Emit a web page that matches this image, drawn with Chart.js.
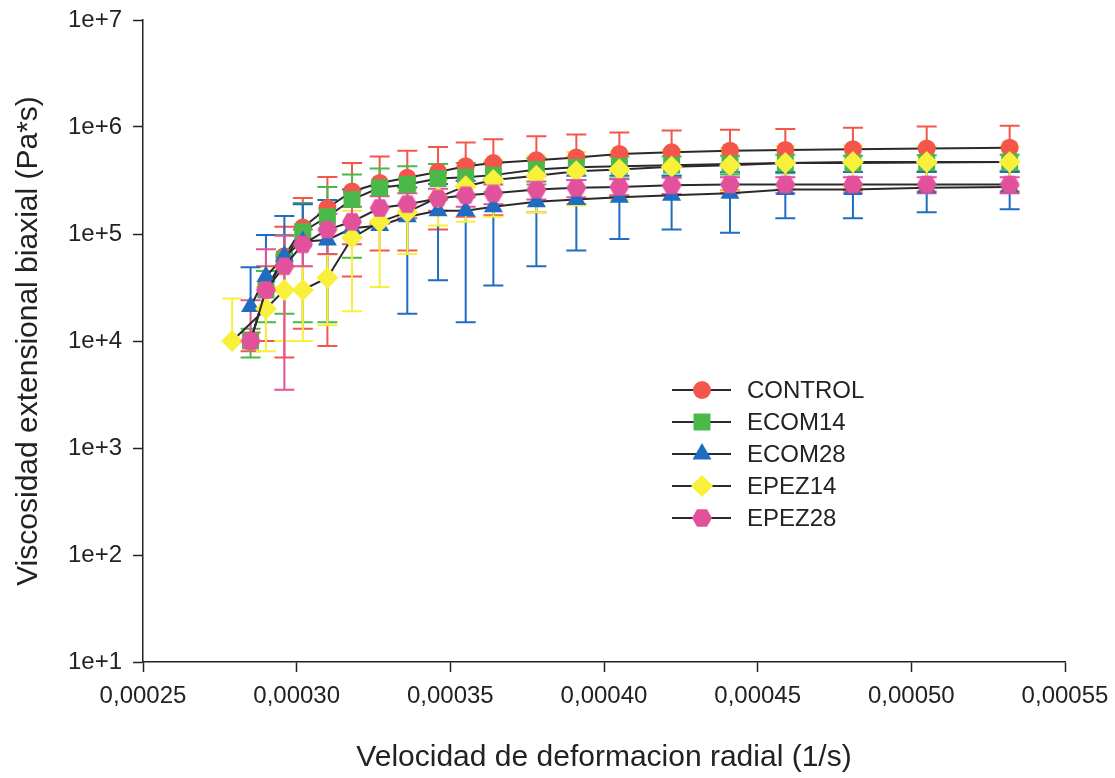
<!DOCTYPE html>
<html>
<head>
<meta charset="utf-8">
<script src="https://cdn.jsdelivr.net/npm/chart.js@4.4.0/dist/chart.umd.min.js"></script>
<style>
  html, body { margin: 0; padding: 0; background: #fff; }
</style>
</head>
<body>
<canvas id="chart" width="1115" height="778"></canvas>
<script>
// strain rate (1/s) for each measurement step
const rates = [0.000279, 0.000285, 0.000290, 0.000296, 0.000302, 0.000310, 0.000318,
  0.000327, 0.000336, 0.000346, 0.000355, 0.000364, 0.000378, 0.000391, 0.000405,
  0.000422, 0.000441, 0.000459, 0.000481, 0.000505, 0.000532];

// biaxial extensional viscosity (Pa*s) and its standard deviation
const control = [null, 1.0e4, 3.0e4, 6.2e4, 1.15e5, 1.75e5, 2.5e5, 3.0e5, 3.35e5, 3.8e5, 4.3e5,
  4.6e5, 4.9e5, 5.2e5, 5.6e5, 5.8e5, 6.0e5, 6.1e5, 6.2e5, 6.3e5, 6.4e5];
const controlSd = [null, 2e3, 2e4, 5.5e4, 1.02e5, 1.66e5, 2.1e5, 2.3e5, 2.65e5, 2.7e5, 2.85e5,
  3.1e5, 3.3e5, 3.3e5, 3.3e5, 3.45e5, 3.45e5, 3.5e5, 3.65e5, 3.8e5, 3.9e5];

const ecom14 = [null, 1.0e4, 3.0e4, 5.8e4, 1.05e5, 1.45e5, 2.1e5, 2.7e5, 2.9e5, 3.3e5, 3.4e5,
  3.55e5, 4.0e5, 4.2e5, 4.3e5, 4.4e5, 4.5e5, 4.6e5, 4.6e5, 4.65e5, 4.7e5];
const ecom14Sd = [null, 3e3, 1.5e4, 4e4, 9e4, 1.3e5, 1.5e5, 1.4e5, 1.4e5, 1.2e5, 1.2e5,
  1.1e5, 1.1e5, 1.0e5, 1.0e5, 9e4, 9e4, 9e4, 8e4, 8e4, 8e4];

const ecom28 = [null, 2.1e4, 4.0e4, 6.2e4, 8.5e4, 8.8e4, 1.13e5, 1.2e5, 1.45e5, 1.65e5, 1.65e5,
  1.8e5, 2.0e5, 2.1e5, 2.2e5, 2.3e5, 2.4e5, 2.6e5, 2.6e5, 2.7e5, 2.75e5];
const ecom28Sd = [null, 2.8e4, 5.8e4, 8.5e4, 1.05e5, 1.2e5, 1.47e5, 1.6e5, 1.27e5, 1.28e5, 1.5e5,
  1.47e5, 1.5e5, 1.4e5, 1.3e5, 1.2e5, 1.37e5, 1.2e5, 1.2e5, 1.1e5, 1.05e5];

const epez14 = [1.0e4, null, 2.0e4, 3.0e4, 3.0e4, 3.9e4, 9.2e4, 1.3e5, 1.6e5, 2.2e5, 2.8e5,
  3.2e5, 3.5e5, 3.85e5, 4.0e5, 4.25e5, 4.4e5, 4.6e5, 4.7e5, 4.7e5, 4.7e5];
const epez14Sd = [1.5e4, null, 1.2e4, 2e4, 2e4, 2.5e4, 7.3e4, 9.8e4, 9.5e4, 1.0e5, 1.5e5,
  1.75e5, 1.9e5, 2.0e5, 1.9e5, 1.9e5, 1.9e5, 2.0e5, 2.0e5, 1.9e5, 1.9e5];

const epez28 = [null, 1.0e4, 3.0e4, 5.0e4, 8.0e4, 1.1e5, 1.3e5, 1.75e5, 1.9e5, 2.15e5, 2.3e5,
  2.4e5, 2.6e5, 2.7e5, 2.75e5, 2.85e5, 2.9e5, 2.9e5, 2.9e5, 2.9e5, 2.9e5];
const epez28Sd = [null, 1.4e4, 4.2e4, 4.65e4, 3e4, 4.5e4, 5e4, 5e4, 5e4, 5e4, 5e4,
  5e4, 5e4, 5e4, 5e4, 5e4, 5e4, 5e4, 5e4, 5e4, 5e4];

const yTickExponents = [1, 2, 3, 4, 5, 6, 7];
const xTicks = [0.00025, 0.00030, 0.00035, 0.00040, 0.00045, 0.00050, 0.00055];

const FONT = "'Liberation Sans', Arial, sans-serif";
const TEXT = '#222';

// hexagon marker, Chart.js has no built-in one
function hexagon(color, r) {
  const c = document.createElement('canvas');
  c.width = c.height = r * 2 + 2;
  const g = c.getContext('2d');
  g.fillStyle = color;
  g.beginPath();
  for (let k = 0; k < 6; k++) {
    const a = Math.PI / 3 * k;
    const px = r + 1 + r * Math.cos(a);
    const py = r + 1 + r * Math.sin(a);
    k ? g.lineTo(px, py) : g.moveTo(px, py);
  }
  g.closePath();
  g.fill();
  return c;
}

const series = [
  {label: 'CONTROL', values: control, sd: controlSd, color: '#f4564b', style: 'circle', radius: 9},
  {label: 'ECOM14', values: ecom14, sd: ecom14Sd, color: '#4bb84a', style: 'rect', radius: 12},
  {label: 'ECOM28', values: ecom28, sd: ecom28Sd, color: '#1f6cc0', style: 'triangle', radius: 11},
  {label: 'EPEZ14', values: epez14, sd: epez14Sd, color: '#f8f03a', style: 'rectRot', radius: 11},
  {label: 'EPEZ28', values: epez28, sd: epez28Sd, color: '#e2519c', style: hexagon('#e2519c', 10), radius: 10}
];

const datasets = series.map((s, i) => ({
  label: s.label,
  data: rates.map((r, j) => ({x: r, y: s.values[j], sd: s.sd[j]})).filter(p => p.y != null),
  borderColor: '#2a2a2a',
  borderWidth: 2,
  pointStyle: s.style,
  pointRadius: s.radius,
  pointBackgroundColor: s.color,
  pointBorderColor: s.color,
  pointBorderWidth: 0,
  barColor: s.color,
  tension: 0,
  order: series.length - i
}));

// vertical error bars (value +/- sd), drawn under the lines and markers
const errorBars = {
  id: 'errorBars',
  beforeDatasetsDraw(chart) {
    const {ctx, scales: {x, y}} = chart;
    const cap = 10;
    ctx.save();
    ctx.lineWidth = 2;
    chart.data.datasets.forEach(ds => {
      ctx.strokeStyle = ds.barColor;
      ds.data.forEach(p => {
        if (!p.sd) return;
        const px = x.getPixelForValue(p.x);
        const mid = y.getPixelForValue(p.y);
        const top = y.getPixelForValue(p.y + p.sd);
        ctx.beginPath();
        ctx.moveTo(px, mid); ctx.lineTo(px, top);
        ctx.moveTo(px - cap, top); ctx.lineTo(px + cap, top);
        const lo = p.y - p.sd;
        if (lo > 0) {
          const bottom = y.getPixelForValue(lo);
          ctx.moveTo(px, mid); ctx.lineTo(px, bottom);
          ctx.moveTo(px - cap, bottom); ctx.lineTo(px + cap, bottom);
        }
        ctx.stroke();
      });
    });
    ctx.restore();
  }
};

// legend inside the plot: short line with the marker on it
const insetLegend = {
  id: 'insetLegend',
  afterDraw(chart) {
    const {ctx} = chart;
    ctx.save();
    ctx.font = '24px ' + FONT;
    ctx.textBaseline = 'middle';
    series.forEach((s, i) => {
      const yy = 390 + i * 32;
      ctx.strokeStyle = '#2a2a2a';
      ctx.lineWidth = 2;
      ctx.beginPath();
      ctx.moveTo(672, yy); ctx.lineTo(731, yy);
      ctx.stroke();
      ctx.fillStyle = s.color;
      Chart.helpers.drawPoint(ctx, {pointStyle: s.style, radius: s.radius, rotation: 0, borderWidth: 0}, 702, yy);
      ctx.fillStyle = TEXT;
      ctx.fillText(s.label, 747, yy + 1);
    });
    ctx.restore();
  }
};

// fixed axis boxes so the plot area sits at 143..1065 x 20..662
function fixX(scale) {
  scale.height = 116;
  scale.paddingLeft = 0;
  scale.paddingRight = 0;
}
function fixY(scale) {
  scale.width = 143;
  scale.paddingTop = 0;
  scale.paddingBottom = 0;
}

new Chart(document.getElementById('chart'), {
  type: 'line',
  data: {datasets},
  plugins: [errorBars, insetLegend],
  options: {
    responsive: false,
    animation: false,
    spanGaps: true,
    layout: {padding: {top: 20, right: 50, bottom: 0, left: 0}},
    plugins: {legend: {display: false}, tooltip: {enabled: false}},
    scales: {
      x: {
        type: 'linear',
        min: 0.00025,
        max: 0.00055,
        afterBuildTicks: scale => { scale.ticks = xTicks.map(v => ({value: v})); },
        afterFit: fixX,
        ticks: {
          autoSkip: false,
          maxRotation: 0,
          padding: 10,
          color: TEXT,
          font: {family: FONT, size: 24},
          callback: v => Number(v).toFixed(5).replace('.', ',')
        },
        grid: {drawOnChartArea: false, tickLength: 10, tickColor: '#222', tickWidth: 1.5},
        border: {color: '#222', width: 1.5},
        title: {
          display: true,
          text: 'Velocidad de deformacion radial (1/s)',
          color: TEXT,
          font: {family: FONT, size: 30},
          padding: {top: 0, bottom: 2}
        }
      },
      y: {
        type: 'logarithmic',
        min: 10,
        max: 1e7,
        afterBuildTicks: scale => { scale.ticks = yTickExponents.map(e => ({value: Math.pow(10, e)})); },
        afterFit: fixY,
        ticks: {
          padding: 11,
          color: TEXT,
          font: {family: FONT, size: 24},
          callback: v => '1e+' + Math.round(Math.log10(v))
        },
        grid: {drawOnChartArea: false, tickLength: 10, tickColor: '#222', tickWidth: 1.5},
        border: {color: '#222', width: 1.5},
        title: {
          display: true,
          text: 'Viscosidad extensional biaxial (Pa*s)',
          color: TEXT,
          font: {family: FONT, size: 30},
          padding: {top: 11, bottom: 0}
        }
      }
    }
  }
});
</script>
</body>
</html>
